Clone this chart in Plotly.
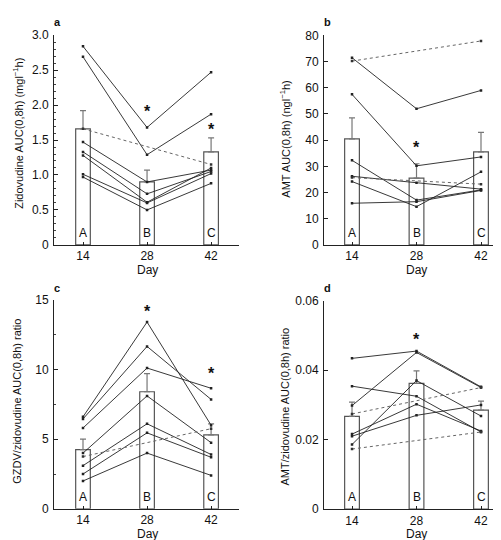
import plotly.graph_objects as go

W, H = 501, 540

days = [14, 28, 42]
bar_letters = ["A", "B", "C"]

# Panel a: Zidovudine AUC
a_mean = [1.66, 0.90, 1.33]
a_err_top = [1.92, 1.07, 1.53]
a_subjects = [
    [2.84, 1.68, 2.47],
    [2.69, 1.29, 1.87],
    [1.47, 0.90, 1.07],
    [1.33, 0.73, 1.05],
    [1.28, 0.61, 1.10],
    [1.01, 0.60, 1.02],
    [0.97, 0.50, 0.88],
]
a_dotted = [[1.66, 1.15]]
a_stars = [(28, 1.95), (42, 1.70)]

# Panel b: AMT AUC
b_mean = [40.5, 25.5, 35.5]
b_err_top = [48.5, 31.0, 43.0]
b_subjects = [
    [71.5, 52.0, 59.0],
    [57.5, 30.2, 33.6],
    [32.3, 17.1, 21.0],
    [26.2, 23.7, 21.3],
    [24.2, 14.6, 27.9],
    [15.9, 16.5, 20.8],
]
b_dotted = [[70.2, 77.9], [25.7, 23.2]]
b_stars = [(28, 38.5)]

# Panel c: GZDV/zidovudine ratio
c_mean = [4.25, 8.40, 5.30]
c_err_top = [5.0, 9.7, 6.1]
c_subjects = [
    [6.60, 13.4, 6.00],
    [6.45, 11.65, 7.85],
    [5.80, 10.1, 8.65],
    [4.00, 8.10, 4.75],
    [3.10, 6.10, 3.90],
    [2.50, 5.45, 3.70],
    [2.00, 4.00, 2.40],
]
c_dotted = [[3.75, 5.75]]
c_stars = [(28, 14.4), (42, 9.9)]

# Panel d: AMT/zidovudine ratio
d_mean = [0.0267, 0.0362, 0.0285]
d_err_top = [0.0308, 0.0398, 0.0311]
d_subjects = [
    [0.0434, 0.0455, 0.0352],
    [0.0298, 0.0451, 0.0350],
    [0.0354, 0.0325, 0.0222],
    [0.0186, 0.0370, 0.0268],
    [0.0216, 0.0302, 0.0225],
    [0.0210, 0.0270, 0.0300],
]
d_dotted = [[0.0274, 0.0350], [0.0173, 0.0222]]
d_stars = [(28, 0.0497)]

panels = [
    dict(key="a", mean=a_mean, err=a_err_top, subj=a_subjects, dot=a_dotted, stars=a_stars,
         yrange=[0, 3.0], tickvals=[0, 0.5, 1.0, 1.5, 2.0, 2.5, 3.0],
         ticktext=["0", "0.5", "1.0", "1.5", "2.0", "2.5", "3.0"], minor=0.1,
         title="Zidovudine AUC(0,8h) (mgl<sup>−1</sup>h)",
         px=(46, 231), py=(20.7, 236), xr=[7.66, 48.1], title_x=10, title_y=122, label_y=7),
    dict(key="b", mean=b_mean, err=b_err_top, subj=b_subjects, dot=b_dotted, stars=b_stars,
         yrange=[0, 80], tickvals=list(range(0, 81, 10)),
         ticktext=[str(v) for v in range(0, 81, 10)], minor=None,
         title="AMT AUC(0,8h) (ngl<sup>−1</sup>h)",
         px=(316, 500), py=(21, 236), xr=[7.92, 47.86], title_x=277, title_y=128, label_y=7),
    dict(key="c", mean=c_mean, err=c_err_top, subj=c_subjects, dot=c_dotted, stars=c_stars,
         yrange=[0, 15], tickvals=[0, 5, 10, 15], ticktext=["0", "5", "10", "15"], minor=2.5,
         title="GZDV/zidovudine AUC(0,8h) ratio",
         px=(46, 231), py=(292.3, 507), xr=[7.66, 48.1], title_x=9, title_y=397, label_y=280),
    dict(key="d", mean=d_mean, err=d_err_top, subj=d_subjects, dot=d_dotted, stars=d_stars,
         yrange=[0, 0.06], tickvals=[0, 0.02, 0.04, 0.06], ticktext=["0", "0.02", "0.04", "0.06"],
         minor=None, title="AMT/zidovudine AUC(0,8h) ratio",
         px=(316, 500), py=(293.3, 507.3), xr=[7.92, 47.86], title_x=277, title_y=402, label_y=280),
]

FONT = "Liberation Sans, Arial, Helvetica, sans-serif"
fig = go.Figure()
annotations = []
layout_axes = {}

for i, p in enumerate(panels):
    n = "" if i == 0 else str(i + 1)
    xa, ya = "x" + n, "y" + n
    # bars
    fig.add_trace(go.Bar(
        x=days, y=p["mean"], width=3.2, xaxis=xa, yaxis=ya,
        marker=dict(color="white", line=dict(color="#555", width=1.2)),
        error_y=dict(type="data", symmetric=False,
                     array=[e - m for e, m in zip(p["err"], p["mean"])],
                     arrayminus=[0, 0, 0], color="#777", thickness=1.2, width=3),
        showlegend=False, hoverinfo="skip"))
    # individual subjects
    for s in p["subj"]:
        fig.add_trace(go.Scatter(
            x=days, y=s, xaxis=xa, yaxis=ya, mode="lines+markers",
            line=dict(color="#222", width=0.9),
            marker=dict(color="#222", size=2.5, symbol="square"),
            showlegend=False, hoverinfo="skip"))
    for s in p["dot"]:
        fig.add_trace(go.Scatter(
            x=[days[0], days[2]], y=s, xaxis=xa, yaxis=ya, mode="lines+markers",
            line=dict(color="#666", width=1, dash="dot"),
            marker=dict(color="#333", size=2.5, symbol="square"),
            showlegend=False, hoverinfo="skip"))
    # letters
    for d, lt in zip(days, bar_letters):
        annotations.append(dict(x=d, y=0, xref=xa, yref=ya, text=lt, showarrow=False,
                                yanchor="bottom", yshift=3,
                                font=dict(family=FONT, size=12, color="#111")))
    # stars
    for sx, sy in p["stars"]:
        annotations.append(dict(x=sx, y=sy, xref=xa, yref=ya, text="<b>*</b>", showarrow=False,
                                yanchor="middle", yshift=-3,
                                font=dict(family=FONT, size=16, color="#111")))
    # panel label
    annotations.append(dict(x=(p["px"][0] + 3) / W, y=1 - p["label_y"] / H, xref="paper", yref="paper",
                            text="<b>" + p["key"] + "</b>", showarrow=False,
                            xanchor="center", yanchor="middle",
                            font=dict(family=FONT, size=11, color="#111")))
    # y title
    annotations.append(dict(x=p["title_x"] / W, y=1 - p["title_y"] / H, xref="paper", yref="paper",
                            text=p["title"], showarrow=False, textangle=-90,
                            xanchor="center", yanchor="middle",
                            font=dict(family=FONT, size=11, color="#111")))
    # x title
    annotations.append(dict(x=(p["px"][0] + p["px"][1]) / 2 / W + 0.001,
                            y=1 - (p["py"][1] + 26) / H, xref="paper", yref="paper",
                            text="Day", showarrow=False, xanchor="center", yanchor="middle",
                            font=dict(family=FONT, size=12, color="#111")))

    xd = [p["px"][0] / W, p["px"][1] / W]
    yd = [1 - p["py"][1] / H, 1 - p["py"][0] / H]
    layout_axes["xaxis" + n] = dict(
        domain=xd, range=p["xr"], anchor=ya, tickmode="array", tickvals=days,
        ticktext=[str(d) for d in days], ticks="inside", ticklen=3, tickcolor="#222",
        showline=True, linecolor="#222", linewidth=1, showgrid=False, zeroline=False,
        tickfont=dict(family=FONT, size=12, color="#111"), ticklabelstandoff=0, fixedrange=True)
    yax = dict(
        domain=yd, range=p["yrange"], anchor=xa, tickmode="array", tickvals=p["tickvals"],
        ticktext=p["ticktext"], ticks="inside", ticklen=4, tickcolor="#222",
        showline=True, linecolor="#222", linewidth=1, showgrid=False, zeroline=False,
        tickfont=dict(family=FONT, size=12, color="#111"), ticklabelstandoff=2, fixedrange=True)
    if p["minor"]:
        yax["minor"] = dict(tickmode="linear", tick0=0, dtick=p["minor"], ticks="inside",
                            ticklen=2, tickcolor="#444", showgrid=False)
    layout_axes["yaxis" + n] = yax

fig.update_layout(
    width=W, height=H, margin=dict(l=0, r=0, t=0, b=0),
    paper_bgcolor="white", plot_bgcolor="white",
    annotations=annotations, showlegend=False, barmode="overlay",
    font=dict(family=FONT, color="#111"),
    **layout_axes)

fig.write_html("out.html")
